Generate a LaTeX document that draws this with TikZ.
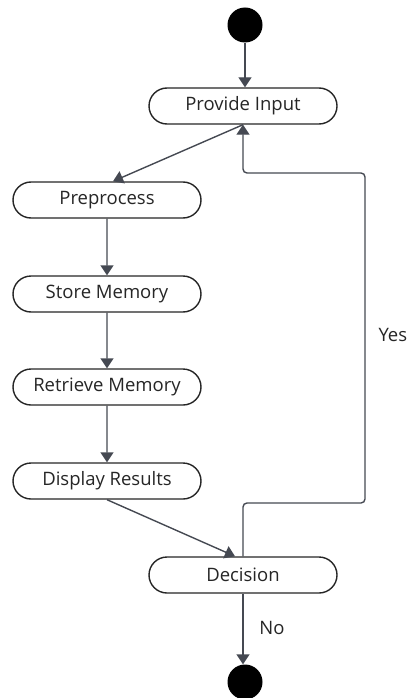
\documentclass[tikz,border=0pt]{standalone}
\usepackage{fontspec}
\setmainfont{Open Sans}
\usetikzlibrary{shapes.misc,arrows.meta,calc}
\definecolor{linec}{HTML}{454952}
\definecolor{txtc}{HTML}{262626}
\begin{document}
\begin{tikzpicture}[x=1pt,y=-1pt,
  act/.style={rounded rectangle, draw=txtc, line width=1.4pt, fill=white,
    minimum width=188pt, minimum height=36pt, inner sep=0pt,
    font=\fontsize{18.5}{20}\selectfont, text=txtc},
  dot/.style={circle, fill=black, minimum size=35pt, inner sep=0pt},
  flow/.style={draw=linec, line width=1.4pt, -{Triangle[length=10pt,width=13pt]}},
  lbl/.style={font=\fontsize{18.5}{20}\selectfont, text=txtc}]
\useasboundingbox (0,0) rectangle (408,698);
\node[dot] (start) at (245,25) {};
\node[act] (pi) at (243,106) {Provide Input};
\node[act] (pre) at (107,200) {Preprocess};
\node[act] (sto) at (107,294) {Store Memory};
\node[act] (ret) at (107,387) {Retrieve Memory};
\node[act] (dis) at (107,481) {Display Results};
\node[act] (dec) at (243,575) {Decision};
\node[dot] (fin) at (245,682) {};
\coordinate (ya) at (365,503);
\coordinate (yb) at (365,173);
\draw[flow] (start) -- (start |- pi.north);
\draw[flow] (pi.south) -- ([xshift=6pt]pre.north);
\draw[flow] (pre) -- (sto);
\draw[flow] (sto) -- (ret);
\draw[flow] (ret) -- (dis);
\draw[flow] (dis.south) -- ([xshift=-8pt]dec.north);
\draw[flow, rounded corners=4pt] (dec.north) |- (ya) -- (yb) -| (pi.south);
\draw[flow] (dec.south) -- (fin.north -| dec.south);
\node[lbl, anchor=west] (yes) at (375,335) {Yes};
\node[lbl] (no) at (272,628) {No};
\end{tikzpicture}
\end{document}
